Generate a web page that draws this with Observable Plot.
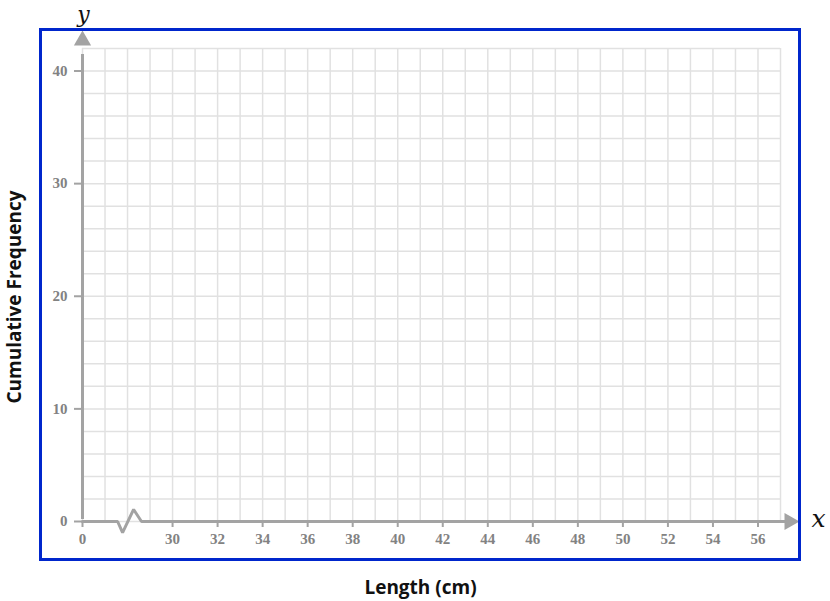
<!DOCTYPE html>
<html>
<head>
<meta charset="utf-8">
<script src="https://cdn.jsdelivr.net/npm/d3@7"></script>
<script src="https://cdn.jsdelivr.net/npm/@observablehq/plot@0.6"></script>
<style>
  body { margin: 0; background: #fff; }
  #wrap { position: relative; width: 830px; height: 601px; }
  #border { position: absolute; left: 39px; top: 28px; width: 756px; height: 527px; border: 3px solid #0026cc; pointer-events: none; }
</style>
</head>
<body>
<div id="wrap"><div id="border"></div></div>
<script>
// Axis domain (x: the "0" origin sits at position 26, followed by an axis break up to 30)
const xOrigin = 26;
const xMax = 57;
const yMax = 42;
// Tick positions and labels
const xTickPositions = [26, 30, 32, 34, 36, 38, 40, 42, 44, 46, 48, 50, 52, 54, 56];
const xTickLabels = ["0", "30", "32", "34", "36", "38", "40", "42", "44", "46", "48", "50", "52", "54", "56"];
const yTickPositions = [0, 10, 20, 30, 40];
const yTickLabels = ["0", "10", "20", "30", "40"];
// Grid lines
const xGrid = d3.range(26, 58, 1);
const yGrid = d3.range(0, 43, 2);
// Axis break zig-zag path on the x-axis
const breakX = [26, 27.56, 27.78, 28.27, 28.62, 57.2];
const breakY = [0, 0, -0.98, 1.07, 0, 0];
const axisPath = breakX.map((x, i) => ({x, y: breakY[i]}));

const axisColor = "#a3a3a3";
const labelColor = "#828282";

const chart = Plot.plot({
  width: 830,
  height: 601,
  marginLeft: 82,
  marginRight: 50,
  marginTop: 48,
  marginBottom: 80,
  x: {domain: [xOrigin, xMax]},
  y: {domain: [0, yMax]},
  style: {background: "transparent", overflow: "visible"},
  marks: [
    Plot.ruleX(xGrid, {y1: 0, y2: yMax, stroke: "#e1e1e1", strokeWidth: 1.5}),
    Plot.ruleY(yGrid, {x1: xOrigin, x2: xMax, stroke: "#e1e1e1", strokeWidth: 1.5}),
    Plot.axisX(xTickPositions, {
      anchor: "bottom", tickSize: 6, tickPadding: 6, stroke: axisColor, strokeWidth: 2,
      tickFormat: (d) => xTickLabels[xTickPositions.indexOf(d)],
      fill: labelColor, fontFamily: "Liberation Serif", fontWeight: "bold", fontSize: 15, label: null
    }),
    Plot.axisY(yTickPositions, {
      anchor: "left", tickSize: 8, tickPadding: 7, stroke: axisColor, strokeWidth: 2,
      tickFormat: (d) => yTickLabels[yTickPositions.indexOf(d)],
      fill: labelColor, fontFamily: "Liberation Serif", fontWeight: "bold", fontSize: 15, label: null
    }),
    Plot.ruleX([xOrigin], {y1: 0, y2: yMax, stroke: axisColor, strokeWidth: 3, insetBottom: -6, insetTop: -2}),
    Plot.line(axisPath, {x: "x", y: "y", stroke: axisColor, strokeWidth: 3, strokeLinejoin: "miter", curve: "linear"}),
    Plot.dot([{x: xMax, y: 0}], {x: "x", y: "y", symbol: "triangle", rotate: 90, r: 6.4, fill: axisColor, stroke: null, dx: 9}),
    Plot.dot([{x: xOrigin, y: yMax}], {x: "x", y: "y", symbol: "triangle", r: 6.4, fill: axisColor, stroke: null, dy: -8}),
    Plot.text(["y"], {frameAnchor: "top-left", textAnchor: "middle", lineAnchor: "middle", dx: 1, dy: -34, text: (d) => d, fontFamily: "DejaVu Serif", fontStyle: "italic", fontSize: 22, fill: "#111"}),
    Plot.text(["x"], {frameAnchor: "bottom-right", textAnchor: "middle", lineAnchor: "middle", dx: 38, dy: -3, text: (d) => d, fontFamily: "DejaVu Serif", fontStyle: "italic", fontSize: 25, fill: "#111"}),
    Plot.text(["Length (cm)"], {frameAnchor: "bottom", textAnchor: "middle", lineAnchor: "middle", dx: -11, dy: 66, text: (d) => d, fontFamily: "Open Sans", fontWeight: "bold", fontSize: 19, fill: "#111"}),
    Plot.text(["Cumulative Frequency"], {frameAnchor: "left", textAnchor: "middle", lineAnchor: "middle", dx: -68, dy: 12, rotate: -90, text: (d) => d, fontFamily: "Open Sans", fontWeight: "bold", fontSize: 19, fill: "#111"})
  ]
});
document.getElementById("wrap").insertBefore(chart, document.getElementById("border"));
</script>
</body>
</html>
